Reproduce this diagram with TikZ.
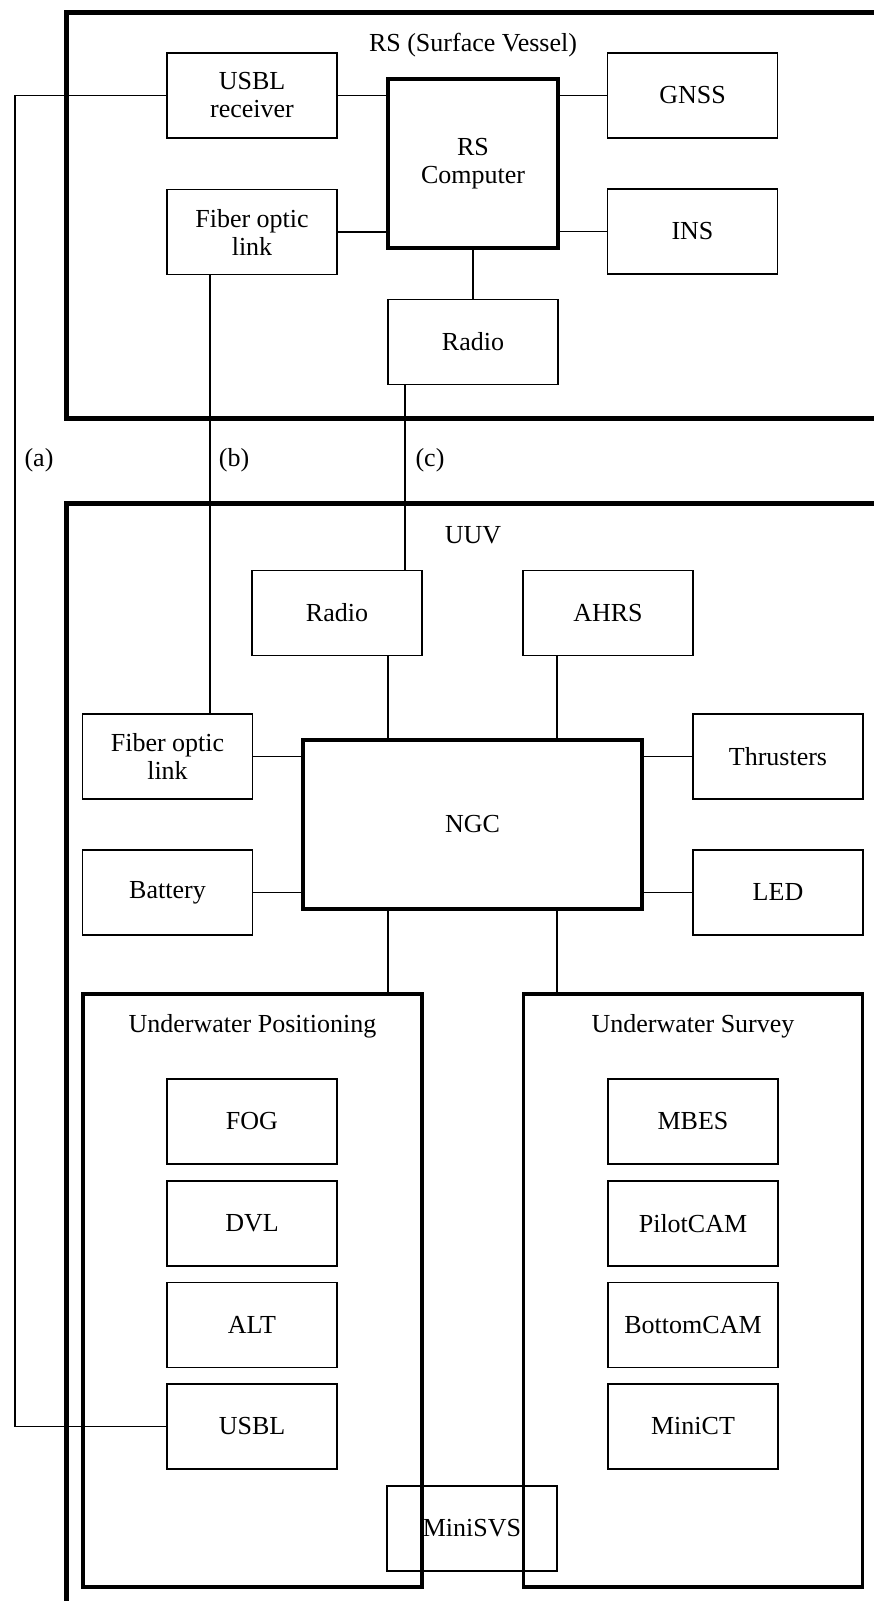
\documentclass[tikz,border=0pt]{standalone}
\usepackage{fontspec}
\setmainfont{Liberation Serif}
\begin{document}
\begin{tikzpicture}[x=1pt,y=-1pt,
  every node/.style={font=\fontsize{26}{28}\selectfont},
  unit/.style={draw,line width=1.3pt,minimum width=170pt,minimum height=85pt,inner sep=0pt,align=center},
  core/.style={draw,line width=4pt,minimum width=170pt,minimum height=169pt,inner sep=0pt,align=center},
  group/.style={draw,line width=3.2pt,minimum width=339pt,minimum height=593pt,inner sep=0pt},
  outer/.style={line width=5pt},
  wire/.style={line width=1.3pt},
  lbl/.style={inner sep=0pt}]
\clip (0,0) rectangle (874,1601);
% outer frames
\draw[outer] (66,12) rectangle (920,418);
\draw[outer] (66,503) rectangle (920,1660);
\node[lbl] (rstitle) at (473,45) {RS (Surface Vessel)};
\node[lbl] (uuvtitle) at (473,535) {UUV};
% RS nodes
\node[unit] (usblr) at (252,95.5) {USBL\\receiver};
\node[core,minimum height=169pt] (rscomp) at (473,163.5) {RS\\Computer};
\node[unit] (gnss) at (692.5,95.5) {GNSS};
\node[unit] (fiberrs) at (252,232) {Fiber optic\\link};
\node[unit] (ins) at (692.5,231.5) {INS};
\node[unit] (radiors) at (473,342) {Radio};
\draw[wire] (usblr.east) -- (rscomp.west |- usblr.east);
\draw[wire] (gnss.west) -- (rscomp.east |- gnss.west);
\draw[wire] (fiberrs.east) -- (rscomp.west |- fiberrs.east);
\draw[wire] (ins.west) -- (rscomp.east |- ins.west);
\draw[wire] (rscomp.south) -- (radiors.north);
% UUV nodes
\node[unit] (radiouuv) at (337,613) {Radio};
\node[unit] (ahrs) at (608,613) {AHRS};
\node[unit] (fiberuuv) at (167.5,756.5) {Fiber optic\\link};
\node[core,minimum width=339pt] (ngc) at (472.5,824.5) {NGC};
\node[unit] (thr) at (778,756.5) {Thrusters};
\node[unit] (bat) at (167.5,892.5) {Battery};
\node[unit] (led) at (778,892.5) {LED};
\node[group] (pos) at (252.5,1290.5) {};
\node[group] (surv) at (693,1290.5) {};
\node[lbl] (postitle) at (252.5,1026) {Underwater Positioning};
\node[lbl] (survtitle) at (693,1026) {Underwater Survey};
\node[unit] (fog) at (252,1121.5) {FOG};
\node[unit] (dvl) at (252,1223.5) {DVL};
\node[unit] (alt) at (252,1325) {ALT};
\node[unit] (usbl) at (252,1426.5) {USBL};
\node[unit] (mbes) at (693,1121.5) {MBES};
\node[unit] (pilot) at (693,1223.5) {PilotCAM};
\node[unit] (bottom) at (693,1325) {BottomCAM};
\node[unit] (minict) at (693,1426.5) {MiniCT};
\node[unit] (minisvs) at (472,1528.5) {MiniSVS};
% UUV internal wires
\coordinate (lx) at (388,0);
\coordinate (rx) at (557,0);
\draw[wire] (radiouuv.south -| lx) -- (ngc.north -| lx);
\draw[wire] (ahrs.south -| rx) -- (ngc.north -| rx);
\draw[wire] (fiberuuv.east) -- (ngc.west |- fiberuuv.east);
\draw[wire] (thr.west) -- (ngc.east |- thr.west);
\draw[wire] (bat.east) -- (ngc.west |- bat.east);
\draw[wire] (led.west) -- (ngc.east |- led.west);
\draw[wire] (ngc.south -| lx) -- (pos.north -| lx);
\draw[wire] (ngc.south -| rx) -- (surv.north -| rx);
% links between RS and UUV
\coordinate (ax) at (15,0);
\coordinate (bx) at (210,0);
\coordinate (cx) at (405,0);
\draw[wire] (usblr.west) -- (usblr.west -| ax) |- (usbl.west);
\draw[wire] (fiberrs.south -| bx) -- (fiberuuv.north -| bx);
\draw[wire] (radiors.south -| cx) -- (radiouuv.north -| cx);
\node[lbl] (la) at (39,460) {(a)};
\node[lbl] (lb) at (234,460) {(b)};
\node[lbl] (lc) at (430,460) {(c)};
\end{tikzpicture}
\end{document}
